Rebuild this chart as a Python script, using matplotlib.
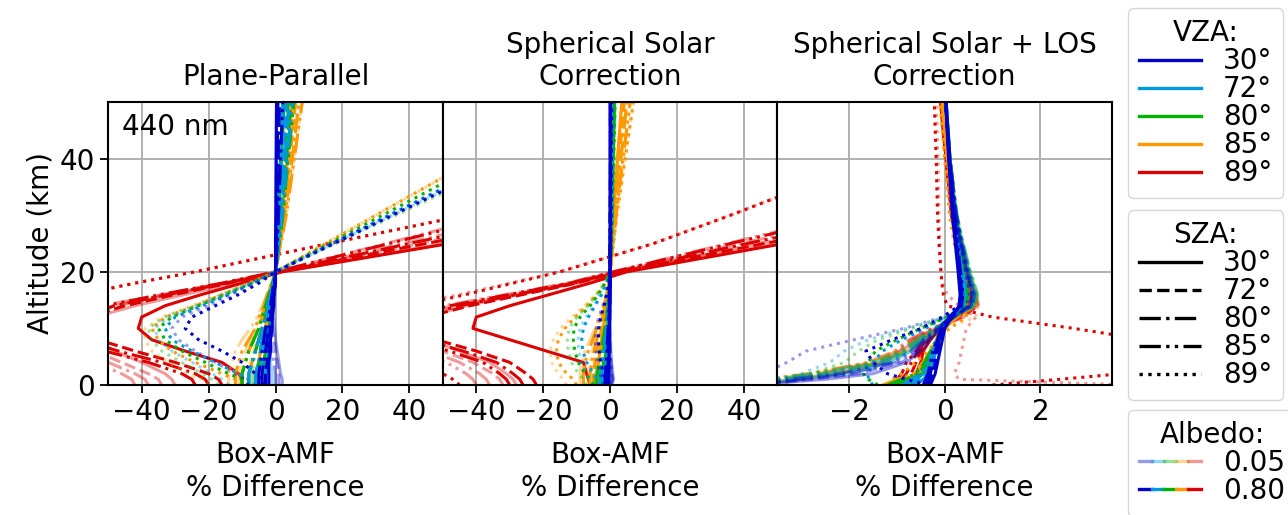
import numpy as np
import matplotlib.pyplot as plt
from matplotlib.lines import Line2D
from matplotlib.legend_handler import HandlerTuple

plt.rcParams['font.size'] = 20

# altitude levels (km) the box-AMF differences are read at
alt = [0, 1, 2, 4, 6, 8, 10, 12, 14, 16, 18, 20, 25, 30, 40, 50]
vza = [30, 72, 80, 85, 89]
sza = [30, 72, 80, 85, 89]
albedo = ['0.05', '0.80']
vzaColors = ['#0000cc', '#0099dd', '#00b300', '#ff9900', '#dd0000']
szaStyles = ['-', (0, (3.7, 1.6)), (0, (6.4, 1.6, 1, 1.6)), (0, (6.4, 1.6, 1, 1.6, 1, 1.6)), (0, (1, 1.65))]
lowAlpha = 0.4

# Plane-Parallel, % difference, [vza][sza] rows over alt
ppHi = [
    [[-2, -2, -2, -2, -1.5, -1.5, -1, -1, -0.5, -0.5, 0, 0, 0, 0.1, 0.2, 0.3],
     [-3, -3, -3, -2.5, -2, -2, -1.5, -1, -1, -0.5, 0, 0, 0.2, 0.3, 0.5, 0.7],
     [-4, -4, -4, -3.5, -3, -2.5, -2, -1.5, -1, -0.5, -0.2, 0, 0.3, 0.5, 0.8, 1.2],
     [-5, -5, -5, -4.5, -4, -3.5, -3, -2, -1.5, -1, -0.5, 0, 0.5, 0.9, 1.5, 2.2],
     [-3, -4, -6, -10, -16, -23, -27, -25, -18, -11, -5, 0, 17.5, 35, 70, 105]],
    [[-3, -3, -3, -2.5, -2, -2, -1.5, -1, -1, -0.5, -0.2, 0, 0.4, 0.8, 1.5, 2.2],
     [-5, -5, -5, -4, -3.5, -3, -2.5, -2, -1.5, -1, -0.5, 0, 0.6, 1.2, 2.2, 3.2],
     [-6, -6, -6, -5, -4.5, -4, -3, -2.5, -2, -1.2, -0.6, 0, 0.8, 1.5, 2.8, 4],
     [-8, -8, -8, -7, -6, -5, -4, -3, -2.5, -1.5, -0.8, 0, 1, 2, 3.5, 5],
     [-6, -8, -11, -18, -25, -31, -33, -30, -22, -14, -7, 0, 17, 34, 68, 102]],
    [[-4, -4, -4, -3.5, -3, -2.5, -2, -1.5, -1, -0.6, -0.3, 0, 0.5, 1, 1.8, 2.6],
     [-6, -6, -6, -5, -4.5, -4, -3, -2.5, -2, -1.2, -0.6, 0, 0.7, 1.4, 2.6, 3.8],
     [-8, -8, -8, -7, -6, -5, -4, -3, -2.5, -1.5, -0.8, 0, 0.9, 1.8, 3.2, 4.6],
     [-10, -10, -10, -9, -8, -6.5, -5, -4, -3, -2, -1, 0, 1.1, 2.2, 3.8, 5.5],
     [-8, -10, -14, -21, -28, -33, -35, -31, -23, -15, -7, 0, 16, 32, 64, 96]],
    [[-6, -6, -6, -5, -4.5, -4, -3, -2.5, -2, -1.2, -0.6, 0, 1, 2, 3.5, 5],
     [-8, -8, -8, -7, -6, -5, -4, -3, -2.5, -1.5, -0.8, 0, 1.2, 2.4, 4.3, 6],
     [-10, -10, -10, -9, -8, -6.5, -5, -4, -3, -2, -1, 0, 1.4, 2.8, 5, 7],
     [-12, -12, -12, -11, -10, -8, -6, -5, -3.5, -2.5, -1.2, 0, 1.6, 3.2, 5.6, 8],
     [-10, -12, -16, -24, -31, -35, -37, -33, -24, -16, -8, 0, 15, 30, 60, 90]],
    [[-10, -10, -11, -16, -27, -37, -41, -40, -33, -22, -10, 2, 52, 100, 200, 300],
     [-16, -17, -20, -30, -42, -53, -58, -56, -45, -30, -14, 1, 45, 90, 180, 270],
     [-20, -21, -24, -34, -47, -58, -63, -60, -48, -32, -15, 1, 40, 80, 160, 240],
     [-24, -25, -28, -38, -51, -62, -67, -64, -51, -34, -16, 0, 34, 68, 136, 204],
     [-70, -80, -95, -120, -135, -140, -135, -120, -100, -58, -42, -24, 16, 57, 140, 220]]]
ppLo = [
    [[2, 2, 1.5, 1, 0.5, 0, -0.3, -0.5, -0.5, -0.3, -0.1, 0, 0.1, 0.1, 0.2, 0.3],
     [1, 1, 1, 0.5, 0, -0.5, -1, -1, -0.8, -0.5, -0.2, 0, 0.2, 0.3, 0.5, 0.7],
     [0, 0, 0, -0.5, -1, -1.5, -1.5, -1.5, -1, -0.6, -0.3, 0, 0.3, 0.5, 0.8, 1.2],
     [-2, -2, -2, -2.5, -3, -3, -2.5, -2, -1.5, -1, -0.5, 0, 0.5, 0.9, 1.5, 2.2],
     [-8, -9, -12, -18, -24, -29, -31, -28, -20, -13, -6, 0, 17, 34, 68, 102]],
    [[-1, -1, -1, -1.5, -1.5, -1.5, -1.2, -1, -0.8, -0.5, -0.2, 0, 0.4, 0.8, 1.5, 2.2],
     [-3, -3, -3, -3, -3, -2.5, -2, -1.8, -1.5, -1, -0.5, 0, 0.6, 1.2, 2.2, 3.2],
     [-5, -5, -5, -4.5, -4, -3.5, -3, -2.5, -2, -1.2, -0.6, 0, 0.8, 1.5, 2.8, 4],
     [-8, -8, -8, -7, -6, -5, -4, -3, -2.5, -1.5, -0.8, 0, 1, 2, 3.5, 5],
     [-14, -16, -19, -25, -31, -35, -36, -32, -23, -15, -7, 0, 17.5, 35, 70, 105]],
    [[-3, -3, -3, -3, -2.5, -2.2, -2, -1.5, -1, -0.6, -0.3, 0, 0.5, 1, 1.8, 2.6],
     [-5, -5, -5, -4.5, -4, -3.5, -3, -2.5, -2, -1.2, -0.6, 0, 0.7, 1.4, 2.6, 3.8],
     [-7, -7, -7, -6.5, -6, -5, -4, -3, -2.5, -1.5, -0.8, 0, 0.9, 1.8, 3.2, 4.6],
     [-10, -10, -10, -9, -8, -6.5, -5, -4, -3, -2, -1, 0, 1.1, 2.2, 3.8, 5.5],
     [-17, -19, -22, -28, -34, -37, -38, -33, -24, -16, -7, 0, 18, 36, 72, 108]],
    [[-5, -5, -5, -5, -4.5, -4, -3, -2.5, -2, -1.2, -0.6, 0, 1, 2, 3.5, 5],
     [-8, -8, -8, -7.5, -6.5, -5.5, -4.5, -3.5, -2.5, -1.5, -0.8, 0, 1.2, 2.4, 4.3, 6],
     [-11, -11, -11, -10, -9, -7.5, -6, -4.5, -3.5, -2, -1, 0, 1.4, 2.8, 5, 7],
     [-14, -14, -14, -13, -12, -10, -7.5, -5.5, -4, -2.5, -1.2, 0, 1.6, 3.2, 5.6, 8],
     [-20, -22, -26, -32, -37, -39, -39, -34, -25, -16, -8, 0, 15, 30, 60, 90]],
    [[-30, -31, -33, -40, -48, -55, -58, -54, -42, -27, -12, 2, 50, 100, 200, 300],
     [-34, -35, -38, -46, -54, -61, -64, -60, -47, -31, -14, 1, 43, 86, 172, 258],
     [-38, -39, -42, -50, -58, -65, -68, -63, -49, -32, -15, 1, 38, 76, 152, 228],
     [-42, -43, -46, -54, -62, -69, -72, -67, -52, -34, -16, 0, 33, 66, 132, 198],
     [-80, -90, -105, -125, -140, -145, -140, -125, -100, -58, -42, -24, 16, 57, 140, 220]]]

# Spherical solar correction
ssHi = [
    [[-0.5, -0.5, -0.5, -0.4, -0.3, -0.2, -0.2, -0.1, -0.1, 0, 0, 0, 0, 0, 0, 0],
     [-0.8, -0.8, -0.7, -0.6, -0.5, -0.4, -0.3, -0.2, -0.1, -0.1, 0, 0, 0, 0, 0.1, 0.1],
     [-1, -1, -1, -0.8, -0.7, -0.5, -0.4, -0.3, -0.2, -0.1, 0, 0, 0, 0.1, 0.1, 0.1],
     [-1.5, -1.5, -1.4, -1.2, -1, -0.8, -0.6, -0.4, -0.3, -0.2, -0.1, 0, 0.1, 0.1, 0.2, 0.2],
     [-1, -1.5, -2, -2.8, -3.3, -3.5, -3.4, -2.8, -1.8, -1, -0.4, 0, 0.2, 0.3, 0.4, 0.5]],
    [[-1, -1, -1, -0.8, -0.6, -0.5, -0.4, -0.3, -0.2, -0.1, 0, 0, 0.1, 0.1, 0.2, 0.3],
     [-1.5, -1.5, -1.4, -1.2, -1, -0.8, -0.6, -0.4, -0.3, -0.2, -0.1, 0, 0.1, 0.2, 0.3, 0.4],
     [-2, -2, -2, -1.7, -1.4, -1.1, -0.8, -0.6, -0.4, -0.2, -0.1, 0, 0.1, 0.2, 0.3, 0.4],
     [-3, -3, -2.8, -2.4, -2, -1.5, -1.1, -0.8, -0.5, -0.3, -0.1, 0, 0.1, 0.2, 0.3, 0.5],
     [-3, -4, -5, -7, -8.2, -8.5, -8, -6.5, -4.5, -2.5, -1, 0, 0.3, 0.5, 0.7, 0.8]],
    [[-2, -2, -2, -1.6, -1.3, -1, -0.8, -0.6, -0.4, -0.2, -0.1, 0, 0.2, 0.4, 0.8, 1.2],
     [-2.5, -2.5, -2.4, -2, -1.6, -1.3, -1, -0.7, -0.5, -0.3, -0.1, 0, 0.2, 0.4, 0.8, 1.2],
     [-3, -3, -2.8, -2.4, -2, -1.6, -1.2, -0.9, -0.6, -0.3, -0.1, 0, 0.2, 0.4, 0.8, 1.3],
     [-4, -4, -3.8, -3.2, -2.6, -2, -1.5, -1.1, -0.7, -0.4, -0.2, 0, 0.2, 0.5, 0.9, 1.3],
     [-5, -6, -7.5, -9.5, -10.6, -11, -10.8, -9, -6, -3.5, -1.5, 0, 0.4, 0.7, 1.1, 1.5]],
    [[-4, -4, -4, -3.5, -3, -2.5, -2, -1.5, -1, -0.6, -0.3, 0, 0.5, 1, 2.2, 3.5],
     [-5, -5, -5, -4.5, -4, -3.2, -2.5, -1.8, -1.2, -0.7, -0.3, 0, 0.6, 1.2, 2.7, 4.2],
     [-6, -6, -6, -5.5, -4.8, -4, -3, -2.2, -1.5, -0.8, -0.4, 0, 0.7, 1.5, 3.2, 5],
     [-8, -8, -8, -7.5, -6.5, -5.2, -4, -2.8, -1.8, -1, -0.4, 0, 0.9, 1.8, 3.8, 6],
     [-10, -11, -13, -15.5, -16, -15.5, -13.5, -10.5, -7, -4, -1.5, 0, 1, 2, 4.5, 7]],
    [[-6, -6.5, -7, -8, -19, -30, -41, -40, -30, -18, -6, 5, 52, 100, 200, 300],
     [-22, -23, -25, -30, -40, -52, -58, -55, -42, -26, -10, 3, 46, 92, 185, 275],
     [-26, -27, -29, -34, -44, -56, -62, -58, -45, -28, -11, 2, 41, 82, 165, 248],
     [-30, -31, -33, -38, -48, -60, -66, -62, -48, -30, -12, 1, 36, 72, 145, 218],
     [-45, -47, -50, -60, -80, -100, -110, -90, -58, -43, -29, -15, 13, 36, 80, 125]]]
ssLo = [
    [[0.5, 1, 0.8, 0.4, 0.2, 0.1, 0, 0, 0, 0, 0, 0, 0, 0, 0, 0],
     [0.3, 0.8, 0.6, 0.3, 0.1, 0, -0.1, -0.1, -0.1, 0, 0, 0, 0, 0, 0.1, 0.1],
     [0, 0.5, 0.4, 0.1, -0.1, -0.2, -0.2, -0.2, -0.1, -0.1, 0, 0, 0, 0.1, 0.1, 0.1],
     [-0.5, 0, 0, -0.3, -0.5, -0.5, -0.4, -0.3, -0.2, -0.1, -0.1, 0, 0.1, 0.1, 0.2, 0.2],
     [-2, -2.5, -3, -3.8, -4.3, -4.5, -4.2, -3.4, -2.2, -1.2, -0.5, 0, 0.2, 0.3, 0.4, 0.5]],
    [[-0.5, -0.3, -0.3, -0.4, -0.4, -0.3, -0.3, -0.2, -0.1, -0.1, 0, 0, 0.1, 0.1, 0.2, 0.3],
     [-1, -0.8, -0.8, -0.8, -0.7, -0.6, -0.5, -0.3, -0.2, -0.1, -0.1, 0, 0.1, 0.2, 0.3, 0.4],
     [-1.5, -1.3, -1.3, -1.2, -1.1, -0.9, -0.7, -0.5, -0.3, -0.2, -0.1, 0, 0.1, 0.2, 0.3, 0.4],
     [-2.5, -2.3, -2.2, -2, -1.7, -1.3, -1, -0.7, -0.5, -0.3, -0.1, 0, 0.1, 0.2, 0.3, 0.5],
     [-5, -6, -7, -8.5, -9.4, -9.6, -9, -7.2, -5, -2.8, -1.1, 0, 0.3, 0.5, 0.7, 0.8]],
    [[-1.5, -1.5, -1.5, -1.3, -1.1, -0.9, -0.7, -0.5, -0.3, -0.2, -0.1, 0, 0.2, 0.4, 0.8, 1.2],
     [-2, -2, -2, -1.8, -1.5, -1.2, -0.9, -0.7, -0.5, -0.3, -0.1, 0, 0.2, 0.4, 0.8, 1.2],
     [-3, -3, -2.8, -2.5, -2.1, -1.7, -1.3, -1, -0.6, -0.3, -0.1, 0, 0.2, 0.4, 0.8, 1.3],
     [-4.5, -4.5, -4.3, -3.7, -3, -2.3, -1.7, -1.2, -0.8, -0.4, -0.2, 0, 0.2, 0.5, 0.9, 1.3],
     [-7, -8, -9.5, -11.5, -12.5, -12.8, -12.2, -10, -6.6, -3.8, -1.6, 0, 0.4, 0.7, 1.1, 1.5]],
    [[-3.5, -3.5, -3.5, -3.3, -3, -2.6, -2.1, -1.6, -1.1, -0.6, -0.3, 0, 0.5, 1, 2.2, 3.5],
     [-5, -5, -5, -4.7, -4.2, -3.5, -2.7, -2, -1.3, -0.7, -0.3, 0, 0.6, 1.2, 2.8, 4.3],
     [-6.5, -6.5, -6.5, -6, -5.3, -4.4, -3.3, -2.4, -1.6, -0.9, -0.4, 0, 0.7, 1.5, 3.3, 5],
     [-9, -9, -9, -8.5, -7.5, -6, -4.5, -3.1, -2, -1.1, -0.4, 0, 0.9, 1.8, 4, 6],
     [-13, -14, -15.5, -17.5, -18, -17, -14.8, -11.5, -7.6, -4.3, -1.6, 0, 1, 2, 4.5, 7]],
    [[-28, -29, -31, -36, -45, -54, -58, -55, -43, -27, -10, 4, 49, 98, 195, 290],
     [-32, -33, -35, -41, -50, -58, -62, -58, -45, -28, -11, 3, 44, 88, 176, 264],
     [-36, -37, -39, -45, -54, -62, -66, -61, -47, -29, -12, 2, 39, 78, 156, 234],
     [-40, -41, -43, -49, -58, -66, -70, -65, -50, -31, -13, 1, 35, 70, 140, 210],
     [-55, -58, -65, -85, -105, -118, -122, -100, -62, -45, -30, -15, 13, 36, 80, 125]]]

# Spherical solar + LOS correction
losHi = [
    [[-0.3, -0.25, -0.2, -0.15, -0.1, -0.05, 0, 0.15, 0.3, 0.32, 0.3, 0.28, 0.22, 0.16, 0.08, 0.02],
     [-0.35, -0.3, -0.25, -0.2, -0.15, -0.1, -0.02, 0.12, 0.32, 0.34, 0.32, 0.3, 0.24, 0.18, 0.09, 0.02],
     [-0.4, -0.35, -0.3, -0.25, -0.2, -0.12, -0.05, 0.1, 0.33, 0.36, 0.34, 0.31, 0.25, 0.19, 0.1, 0.02],
     [-0.45, -0.4, -0.35, -0.3, -0.25, -0.15, -0.08, 0.08, 0.35, 0.38, 0.36, 0.33, 0.27, 0.2, 0.1, 0.03],
     [-0.35, -0.8, -1.2, -1.5, -1.65, -1.1, -0.5, -0.05, 0.3, 0.35, 0.33, 0.3, 0.24, 0.18, 0.09, 0.02]],
    [[-0.6, -0.45, -0.35, -0.25, -0.18, -0.1, -0.02, 0.15, 0.35, 0.38, 0.36, 0.33, 0.26, 0.19, 0.1, 0.02],
     [-0.7, -0.5, -0.4, -0.3, -0.2, -0.12, -0.04, 0.13, 0.37, 0.4, 0.38, 0.35, 0.27, 0.2, 0.1, 0.02],
     [-0.8, -0.6, -0.45, -0.33, -0.22, -0.14, -0.06, 0.12, 0.38, 0.42, 0.4, 0.36, 0.28, 0.2, 0.1, 0.02],
     [-0.9, -0.7, -0.5, -0.36, -0.25, -0.16, -0.08, 0.1, 0.4, 0.44, 0.42, 0.38, 0.29, 0.21, 0.11, 0.03],
     [-1.5, -1.6, -1.6, -1.5, -1.3, -0.9, -0.4, 0, 0.35, 0.4, 0.38, 0.35, 0.27, 0.2, 0.1, 0.02]],
    [[-0.9, -0.6, -0.45, -0.3, -0.2, -0.12, -0.03, 0.15, 0.38, 0.42, 0.4, 0.36, 0.28, 0.2, 0.1, 0.02],
     [-1, -0.7, -0.5, -0.34, -0.23, -0.14, -0.05, 0.13, 0.4, 0.44, 0.42, 0.38, 0.29, 0.21, 0.1, 0.02],
     [-1.1, -0.8, -0.55, -0.38, -0.26, -0.16, -0.07, 0.12, 0.42, 0.46, 0.43, 0.39, 0.3, 0.22, 0.11, 0.02],
     [-1.2, -0.9, -0.6, -0.42, -0.3, -0.18, -0.09, 0.1, 0.44, 0.48, 0.45, 0.41, 0.31, 0.22, 0.11, 0.03],
     [-1.4, -1.6, -1.7, -1.6, -1.45, -1.0, -0.5, 0.05, 0.4, 0.44, 0.42, 0.38, 0.29, 0.21, 0.1, 0.02]],
    [[-1, -0.7, -0.5, -0.35, -0.22, -0.12, 0, 0.25, 0.42, 0.45, 0.42, 0.38, 0.28, 0.18, 0.06, -0.05],
     [-1.1, -0.8, -0.55, -0.38, -0.25, -0.14, -0.02, 0.24, 0.44, 0.47, 0.44, 0.39, 0.29, 0.19, 0.06, -0.05],
     [-1.2, -0.9, -0.6, -0.42, -0.28, -0.16, -0.04, 0.23, 0.46, 0.49, 0.46, 0.41, 0.3, 0.19, 0.06, -0.06],
     [-1.3, -1, -0.65, -0.46, -0.3, -0.18, -0.06, 0.22, 0.48, 0.51, 0.48, 0.42, 0.31, 0.2, 0.06, -0.06],
     [-1.2, -1.1, -0.9, -0.6, -0.35, -0.15, 0.1, 0.45, 0.5, 0.45, 0.4, 0.35, 0.2, 0.1, 0, -0.1]],
    [[-0.8, -0.7, -0.6, -0.5, -0.45, -0.3, -0.1, 0.3, 0.5, 0.48, 0.42, 0.36, 0.25, 0.14, 0.03, -0.08],
     [-0.9, -0.8, -0.7, -0.6, -0.5, -0.35, -0.12, 0.28, 0.52, 0.5, 0.44, 0.37, 0.26, 0.15, 0.03, -0.08],
     [-1, -0.9, -0.8, -0.7, -0.55, -0.4, -0.15, 0.26, 0.54, 0.52, 0.45, 0.38, 0.26, 0.15, 0.03, -0.09],
     [-1.1, -1, -0.9, -0.8, -0.6, -0.45, -0.18, 0.24, 0.56, 0.54, 0.46, 0.39, 0.27, 0.15, 0.03, -0.09],
     [1.0, 2.4, 3.7, 6, 6, 4.2, 2.7, 1.0, 0.05, -0.03, -0.06, -0.08, -0.12, -0.15, -0.18, -0.22]]]
losLo = [
    [[-4, -2.5, -1.5, -0.8, -0.5, -0.3, -0.1, 0.2, 0.5, 0.55, 0.5, 0.45, 0.33, 0.22, 0.1, 0.02],
     [-4, -2.8, -1.8, -0.9, -0.55, -0.35, -0.12, 0.18, 0.52, 0.57, 0.52, 0.46, 0.34, 0.23, 0.1, 0.02],
     [-4, -3, -2, -1, -0.6, -0.4, -0.15, 0.16, 0.55, 0.6, 0.54, 0.48, 0.35, 0.24, 0.11, 0.02],
     [-4, -3.3, -2.2, -1.1, -0.7, -0.45, -0.18, 0.14, 0.58, 0.62, 0.56, 0.5, 0.36, 0.25, 0.11, 0.03],
     [-4, -4, -3.8, -3.3, -2.9, -1.9, -0.85, -0.05, 0.45, 0.52, 0.48, 0.43, 0.32, 0.21, 0.1, 0.02]],
    [[-4, -3, -2, -1.1, -0.7, -0.4, -0.12, 0.2, 0.55, 0.6, 0.55, 0.48, 0.35, 0.23, 0.1, 0.02],
     [-4, -3.2, -2.2, -1.2, -0.75, -0.45, -0.15, 0.18, 0.57, 0.62, 0.56, 0.5, 0.36, 0.24, 0.1, 0.02],
     [-4, -3.4, -2.4, -1.3, -0.8, -0.5, -0.18, 0.16, 0.6, 0.65, 0.58, 0.51, 0.37, 0.25, 0.11, 0.02],
     [-4, -3.6, -2.6, -1.4, -0.9, -0.55, -0.2, 0.14, 0.62, 0.67, 0.6, 0.53, 0.38, 0.25, 0.11, 0.03],
     [-4, -3.5, -3, -2.4, -2.1, -1.6, -0.8, 0, 0.5, 0.56, 0.52, 0.46, 0.34, 0.22, 0.1, 0.02]],
    [[-4, -3.2, -2.2, -1.2, -0.75, -0.45, -0.14, 0.2, 0.58, 0.62, 0.56, 0.5, 0.36, 0.24, 0.1, 0.02],
     [-4, -3.4, -2.4, -1.3, -0.8, -0.5, -0.17, 0.18, 0.6, 0.64, 0.58, 0.51, 0.37, 0.25, 0.11, 0.02],
     [-4, -3.6, -2.6, -1.4, -0.85, -0.55, -0.2, 0.16, 0.62, 0.67, 0.6, 0.53, 0.38, 0.25, 0.11, 0.02],
     [-4, -3.8, -2.8, -1.5, -0.95, -0.6, -0.22, 0.14, 0.64, 0.69, 0.62, 0.54, 0.39, 0.26, 0.11, 0.03],
     [-4, -3.4, -2.8, -2.1, -1.8, -1.4, -0.7, 0.05, 0.52, 0.58, 0.53, 0.47, 0.35, 0.23, 0.1, 0.02]],
    [[-4, -3.3, -2.3, -1.3, -0.8, -0.45, -0.1, 0.3, 0.6, 0.62, 0.55, 0.48, 0.34, 0.21, 0.07, -0.04],
     [-4, -3.5, -2.5, -1.4, -0.85, -0.5, -0.13, 0.28, 0.62, 0.64, 0.57, 0.49, 0.35, 0.22, 0.07, -0.04],
     [-4, -3.7, -2.7, -1.5, -0.9, -0.55, -0.16, 0.26, 0.64, 0.66, 0.58, 0.5, 0.36, 0.22, 0.07, -0.05],
     [-4, -3.9, -2.9, -1.6, -1, -0.6, -0.19, 0.24, 0.66, 0.68, 0.6, 0.52, 0.37, 0.23, 0.07, -0.05],
     [-3.5, -3, -2.4, -1.6, -1, -0.5, 0, 0.65, 0.7, 0.6, 0.5, 0.42, 0.25, 0.12, 0, -0.1]],
    [[-4, -3, -2.2, -1.3, -0.9, -0.6, -0.2, 0.4, 0.65, 0.6, 0.5, 0.42, 0.29, 0.16, 0.03, -0.08],
     [-4, -3.2, -2.4, -1.4, -0.95, -0.65, -0.22, 0.38, 0.67, 0.62, 0.51, 0.43, 0.3, 0.16, 0.03, -0.08],
     [-4, -3.4, -2.6, -1.5, -1, -0.7, -0.25, 0.36, 0.69, 0.64, 0.52, 0.44, 0.3, 0.16, 0.03, -0.09],
     [-4, -3.6, -2.8, -1.6, -1.05, -0.75, -0.28, 0.34, 0.71, 0.66, 0.53, 0.45, 0.31, 0.16, 0.03, -0.09],
     [4, 0.3, 0.2, 0.3, 0.35, 0.4, 0.45, 0.65, 0.3, 0.05, -0.05, -0.08, -0.1, -0.12, -0.14, -0.18]]]

titles = ['Plane-Parallel', 'Spherical Solar\nCorrection', 'Spherical Solar + LOS\nCorrection']
panelData = [(ppLo, ppHi), (ssLo, ssHi), (losLo, losHi)]
xLimits = [(-50, 50), (-50, 50), (-3.5, 3.5)]
xTicks = [[-40, -20, 0, 20, 40], [-40, -20, 0, 20, 40], [-2, 0, 2]]

fig, axs = plt.subplots(1, 3, figsize=(12.88, 5.15), sharey=True)
plt.subplots_adjust(left=0.084, right=0.8634, bottom=0.2524, top=0.802, wspace=0)

for i, ax in enumerate(axs):
    lo, hi = panelData[i]
    # red (89) first so the small VZA lines sit on top
    for v in range(len(vza) - 1, -1, -1):
        for s in range(len(sza)):
            ax.plot(lo[v][s], alt, color=vzaColors[v], ls=szaStyles[s], lw=2.2, alpha=lowAlpha)
            ax.plot(hi[v][s], alt, color=vzaColors[v], ls=szaStyles[s], lw=2.2)
    ax.set_xlim(xLimits[i])
    ax.set_xticks(xTicks[i])
    ax.set_ylim(0, 50)
    ax.set_yticks([0, 20, 40])
    ax.grid(True, color='#b0b0b0', lw=1.4)
    ax.set_axisbelow(True)
    ax.set_title(titles[i], fontsize=20, pad=12)
    ax.set_xlabel('Box-AMF\n% Difference', labelpad=11)
    ax.tick_params(length=6, width=1.3)
    for sp in ax.spines.values():
        sp.set_linewidth(1.5)
    if i > 0:
        ax.tick_params(axis='y', left=False)

axs[0].set_ylabel('Altitude (km)')
axs[0].text(0.04, 0.96, '440 nm', transform=axs[0].transAxes, va='top', ha='left')

# legends on the right
legKw = dict(loc='upper left', fontsize=20, title_fontsize=20, handlelength=2.2,
             labelspacing=0.0, borderaxespad=0, borderpad=0.4, handletextpad=0.8)
vzaHandles = [Line2D([], [], color=c, lw=2.4) for c in vzaColors]
fig.legend(vzaHandles, ['%d°' % v for v in vza], title='VZA:', bbox_to_anchor=(0.876, 0.984), **legKw)
szaHandles = [Line2D([], [], color='k', ls=st, lw=2.4) for st in szaStyles]
fig.legend(szaHandles, ['%d°' % s for s in sza], title='SZA:', bbox_to_anchor=(0.876, 0.592), **legKw)
loHandle = tuple(Line2D([], [], color=c, lw=2.4, alpha=lowAlpha) for c in vzaColors)
hiHandle = tuple(Line2D([], [], color=c, lw=2.4) for c in vzaColors)
fig.legend([loHandle, hiHandle], albedo, title='Albedo:', bbox_to_anchor=(0.876, 0.204),
           handler_map={tuple: HandlerTuple(ndivide=None, pad=0)}, **legKw)

plt.savefig('out.png', dpi=100)
